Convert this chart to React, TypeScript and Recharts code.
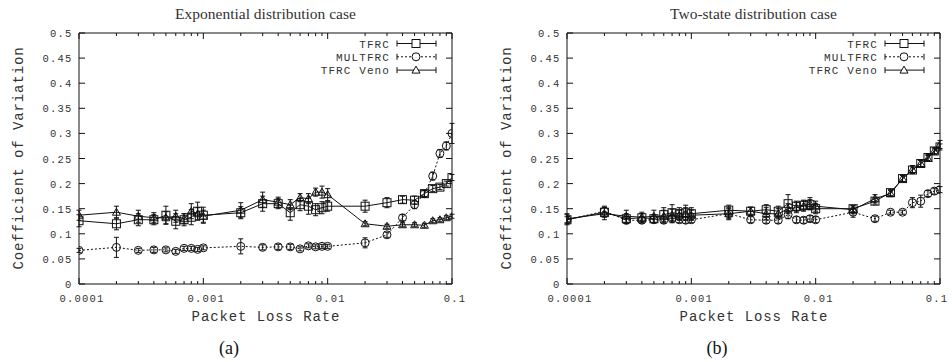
import React from 'react';
import { LineChart, Line, XAxis, YAxis, ErrorBar, Legend } from 'recharts';

const lossRates = [0.0001, 0.0002, 0.0003, 0.0004, 0.0005, 0.0006, 0.0007, 0.0008, 0.0009, 0.001, 0.002, 0.003, 0.004, 0.005, 0.006, 0.007, 0.008, 0.009, 0.01, 0.02, 0.03, 0.04, 0.05, 0.06, 0.07, 0.08, 0.09, 0.1];

const xTicks = [0.0001, 0.0002, 0.0003, 0.0004, 0.0005, 0.0006, 0.0007, 0.0008, 0.0009, 0.001, 0.002, 0.003, 0.004, 0.005, 0.006, 0.007, 0.008, 0.009, 0.01, 0.02, 0.03, 0.04, 0.05, 0.06, 0.07, 0.08, 0.09, 0.1];
const xMajorTicks = [0.0001, 0.001, 0.01, 0.1];
const xMajorLabels = ['0.0001', '0.001', '0.01', '0.1'];
const yTicks = [0, 0.05, 0.1, 0.15, 0.2, 0.25, 0.3, 0.35, 0.4, 0.45, 0.5];
const yTickLabels = ['0', '0.05', '0.1', '0.15', '0.2', '0.25', '0.3', '0.35', '0.4', '0.45', '0.5'];

const seriesNames = ['TFRC', 'MULTFRC', 'TFRC Veno'];

// (a) Exponential distribution case
const expTfrc = [0.126, 0.12, 0.128, 0.128, 0.137, 0.125, 0.128, 0.133, 0.145, 0.137, 0.142, 0.16, 0.16, 0.142, 0.158, 0.155, 0.148, 0.152, 0.155, 0.155, 0.162, 0.168, 0.167, 0.18, 0.19, 0.193, 0.2, 0.212];
const expTfrcErr = [0.012, 0.012, 0.012, 0.01, 0.018, 0.015, 0.012, 0.015, 0.018, 0.016, 0.012, 0.015, 0.01, 0.015, 0.012, 0.016, 0.012, 0.012, 0.01, 0.012, 0.01, 0.007, 0.008, 0.006, 0.006, 0.005, 0.005, 0.006];
const expMult = [0.067, 0.073, 0.067, 0.068, 0.068, 0.065, 0.071, 0.071, 0.069, 0.072, 0.075, 0.073, 0.074, 0.074, 0.07, 0.076, 0.074, 0.075, 0.075, 0.082, 0.098, 0.132, 0.158, 0.18, 0.215, 0.26, 0.275, 0.3];
const expMultErr = [0.004, 0.02, 0.004, 0.005, 0.004, 0.004, 0.004, 0.004, 0.004, 0.004, 0.015, 0.005, 0.005, 0.005, 0.004, 0.004, 0.004, 0.004, 0.004, 0.01, 0.005, 0.006, 0.008, 0.006, 0.008, 0.008, 0.008, 0.02];
const expVeno = [0.137, 0.143, 0.135, 0.132, 0.132, 0.135, 0.13, 0.145, 0.14, 0.135, 0.147, 0.168, 0.163, 0.158, 0.172, 0.17, 0.183, 0.183, 0.178, 0.12, 0.115, 0.118, 0.118, 0.117, 0.126, 0.128, 0.132, 0.135];
const expVenoErr = [0.01, 0.012, 0.012, 0.01, 0.012, 0.012, 0.01, 0.015, 0.012, 0.012, 0.015, 0.015, 0.01, 0.01, 0.008, 0.01, 0.008, 0.012, 0.012, 0.004, 0.004, 0.004, 0.004, 0.004, 0.004, 0.004, 0.004, 0.004];

// (b) Two-state distribution case
const twoTfrc = [0.128, 0.143, 0.13, 0.132, 0.13, 0.138, 0.142, 0.14, 0.142, 0.14, 0.147, 0.145, 0.148, 0.145, 0.16, 0.155, 0.157, 0.158, 0.15, 0.15, 0.165, 0.182, 0.21, 0.227, 0.24, 0.252, 0.265, 0.273];
const twoTfrcErr = [0.01, 0.01, 0.01, 0.008, 0.008, 0.014, 0.016, 0.012, 0.015, 0.012, 0.01, 0.008, 0.01, 0.01, 0.018, 0.01, 0.01, 0.01, 0.01, 0.006, 0.006, 0.006, 0.006, 0.006, 0.006, 0.006, 0.006, 0.006];
const twoMult = [0.128, 0.145, 0.127, 0.127, 0.128, 0.127, 0.13, 0.128, 0.127, 0.128, 0.14, 0.128, 0.127, 0.127, 0.138, 0.128, 0.127, 0.13, 0.128, 0.143, 0.13, 0.143, 0.143, 0.162, 0.165, 0.18, 0.185, 0.188];
const twoMultErr = [0.006, 0.01, 0.006, 0.006, 0.006, 0.006, 0.008, 0.006, 0.006, 0.006, 0.012, 0.006, 0.006, 0.006, 0.008, 0.006, 0.006, 0.006, 0.006, 0.01, 0.005, 0.004, 0.004, 0.01, 0.012, 0.006, 0.006, 0.006];
const twoVeno = [0.13, 0.14, 0.135, 0.133, 0.135, 0.135, 0.137, 0.137, 0.14, 0.137, 0.14, 0.145, 0.14, 0.14, 0.15, 0.152, 0.155, 0.16, 0.155, 0.148, 0.17, 0.18, 0.21, 0.228, 0.24, 0.25, 0.265, 0.278];
const twoVenoErr = [0.01, 0.012, 0.012, 0.01, 0.012, 0.012, 0.012, 0.01, 0.012, 0.01, 0.01, 0.008, 0.012, 0.01, 0.01, 0.01, 0.01, 0.012, 0.01, 0.008, 0.008, 0.006, 0.006, 0.008, 0.006, 0.006, 0.006, 0.008];

const buildRows = (t: number[], te: number[], m: number[], me: number[], v: number[], ve: number[]) =>
  lossRates.map((x, i) => ({ x, tfrc: t[i], tfrcErr: te[i], mult: m[i], multErr: me[i], veno: v[i], venoErr: ve[i] }));

const expRows = buildRows(expTfrc, expTfrcErr, expMult, expMultErr, expVeno, expVenoErr);
const twoRows = buildRows(twoTfrc, twoTfrcErr, twoMult, twoMultErr, twoVeno, twoVenoErr);

const MONO = '"Liberation Mono", "DejaVu Sans Mono", monospace';
const SERIF = '"Liberation Serif", "DejaVu Serif", serif';
const INK = '#111';
const TXT = '#333';

const BottomTick = (props: any) => {
  const { x, y, payload, maxX } = props;
  const i = xMajorTicks.indexOf(payload.value);
  const len = i >= 0 ? 6 : 3;
  const limit = typeof maxX === 'number' ? maxX : 1000;
  const tx = Math.min(x + 3, limit);
  return (
    <g>
      <line x1={x} x2={x} y1={y} y2={y - len} stroke={INK} strokeWidth={1} />
      {i >= 0 && (
        <text x={tx} y={y + 18} textAnchor="middle" fontFamily={MONO} fontSize={10.5} letterSpacing={1.2} fill={TXT}>
          {xMajorLabels[i]}
        </text>
      )}
    </g>
  );
};

const TopTick = (props: any) => {
  const { x, y, payload } = props;
  const i = xMajorTicks.indexOf(payload.value);
  const len = i >= 0 ? 6 : 3;
  return <line x1={x} x2={x} y1={y} y2={y + len} stroke={INK} strokeWidth={1} />;
};

const LeftTick = (props: any) => {
  const { x, y, payload } = props;
  const i = yTicks.indexOf(payload.value);
  return (
    <g>
      <line x1={x} x2={x + 6} y1={y} y2={y} stroke={INK} strokeWidth={1} />
      <text x={x - 6.5} y={y + 4} textAnchor="end" fontFamily={MONO} fontSize={10.5} letterSpacing={1.2} fill={TXT}>
        {i >= 0 ? yTickLabels[i] : ''}
      </text>
    </g>
  );
};

const RightTick = (props: any) => {
  const { x, y } = props;
  return <line x1={x} x2={x - 6} y1={y} y2={y} stroke={INK} strokeWidth={1} />;
};

const Square = (p: any) => {
  if (p.cx == null || p.cy == null) return <g key={p.key} />;
  return <rect key={p.key} x={p.cx - 4} y={p.cy - 4} width={8} height={8} fill="none" stroke={INK} strokeWidth={1} />;
};
const Circle = (p: any) => {
  if (p.cx == null || p.cy == null) return <g key={p.key} />;
  return <circle key={p.key} cx={p.cx} cy={p.cy} r={4} fill="none" stroke={INK} strokeWidth={1} />;
};
const Triangle = (p: any) => {
  if (p.cx == null || p.cy == null) return <g key={p.key} />;
  const { cx, cy } = p;
  return <path key={p.key} d={`M${cx},${cy - 4} L${cx + 4},${cy + 3} L${cx - 4},${cy + 3} Z`} fill="none" stroke={INK} strokeWidth={1} />;
};

const LegendBox = () => {
  const rows = [
    { name: seriesNames[0], dash: undefined as string | undefined, mark: 'sq' },
    { name: seriesNames[1], dash: '2 2', mark: 'ci' },
    { name: seriesNames[2], dash: undefined as string | undefined, mark: 'tr' },
  ];
  return (
    <svg width={160} height={44} style={{ display: 'block', overflow: 'visible' }}>
      {rows.map((r, i) => {
        const y = 7.5 + i * 13.3;
        const x1 = 97;
        const x2 = 136;
        const cx = 116;
        return (
          <g key={r.name}>
            <text x={90} y={y + 4} textAnchor="end" fontFamily={MONO} fontSize={11} letterSpacing={1.1} fill={TXT}>{r.name}</text>
            <line x1={x1} x2={x2} y1={y} y2={y} stroke={INK} strokeDasharray={r.dash} />
            <line x1={x1} x2={x1} y1={y - 3} y2={y + 3} stroke={INK} />
            <line x1={x2} x2={x2} y1={y - 3} y2={y + 3} stroke={INK} />
            {r.mark === 'sq' && <rect x={cx - 4} y={y - 4} width={8} height={8} fill="#fff" stroke={INK} />}
            {r.mark === 'ci' && <circle cx={cx} cy={y} r={4} fill="#fff" stroke={INK} />}
            {r.mark === 'tr' && <path d={`M${cx},${y - 4} L${cx + 4},${y + 3} L${cx - 4},${y + 3} Z`} fill="#fff" stroke={INK} />}
          </g>
        );
      })}
    </svg>
  );
};

const XTitle = () => (
  <text x={266} y={321} textAnchor="middle" fontFamily={MONO} fontSize={14} letterSpacing={0.9} fill={TXT}>Packet Loss Rate</text>
);
const YTitle = () => (
  <text x={23} y={158} transform="rotate(-90 23 158)" textAnchor="middle" fontFamily={MONO} fontSize={14} letterSpacing={0.9} fill={TXT}>Coefficient of Variation</text>
);

function Panel({ title, tag, rows, left, maxLabelX }: { title: string; tag: string; rows: any[]; left: number; maxLabelX: number }) {
  return (
    <div style={{ position: 'absolute', left, top: 0, width: 476, height: 362 }}>
      <div style={{ position: 'absolute', left: 0, width: 531, top: 5, textAlign: 'center', fontFamily: SERIF, fontSize: 15.5, color: TXT, lineHeight: '18px' }}>
        {title}
      </div>
      <div style={{ position: 'absolute', left: 179, width: 100, top: 337, textAlign: 'center', fontFamily: SERIF, fontSize: 18, color: '#111', lineHeight: '22px' }}>
        {tag}
      </div>
      <LineChart width={476} height={362} data={rows} margin={{ top: 23, right: 14, bottom: 68, left: 69 }}>
        <XAxis xAxisId="b" orientation="bottom" dataKey="x" type="number" scale="log" domain={[0.0001, 0.1]} allowDataOverflow ticks={xTicks} interval={0} tickSize={0} tickMargin={0} height={10} axisLine={{ stroke: INK }} tick={<BottomTick maxX={maxLabelX} />} label={<XTitle />} />
        <XAxis xAxisId="t" orientation="top" dataKey="x" type="number" scale="log" domain={[0.0001, 0.1]} allowDataOverflow ticks={xTicks} interval={0} tickSize={0} tickMargin={0} height={10} axisLine={{ stroke: INK }} tick={<TopTick />} />
        <YAxis yAxisId="l" orientation="left" type="number" domain={[0, 0.5]} allowDataOverflow ticks={yTicks} interval={0} tickSize={0} tickMargin={0} width={10} axisLine={{ stroke: INK }} tick={<LeftTick />} label={<YTitle />} />
        <YAxis yAxisId="r" orientation="right" type="number" domain={[0, 0.5]} allowDataOverflow ticks={yTicks} interval={0} tickSize={0} tickMargin={0} width={10} axisLine={{ stroke: INK }} tick={<RightTick />} />
        <Legend layout="vertical" align="center" verticalAlign="middle" wrapperStyle={{ left: 300, top: 36, width: 160, height: 44 }} content={() => <LegendBox />} />
        <Line xAxisId="b" yAxisId="l" dataKey="tfrc" name={seriesNames[0]} stroke={INK} strokeWidth={1} dot={Square} activeDot={false} isAnimationActive={false}>
          <ErrorBar dataKey="tfrcErr" direction="y" width={2.5} stroke={INK} strokeWidth={1} isAnimationActive={false} />
        </Line>
        <Line xAxisId="b" yAxisId="l" dataKey="mult" name={seriesNames[1]} stroke={INK} strokeWidth={1} strokeDasharray="2 2" dot={Circle} activeDot={false} isAnimationActive={false}>
          <ErrorBar dataKey="multErr" direction="y" width={2.5} stroke={INK} strokeWidth={1} isAnimationActive={false} />
        </Line>
        <Line xAxisId="b" yAxisId="l" dataKey="veno" name={seriesNames[2]} stroke={INK} strokeWidth={1} dot={Triangle} activeDot={false} isAnimationActive={false}>
          <ErrorBar dataKey="venoErr" direction="y" width={2.5} stroke={INK} strokeWidth={1} isAnimationActive={false} />
        </Line>
      </LineChart>
    </div>
  );
}

export default function App() {
  return (
    <div style={{ position: 'absolute', left: 0, top: 0, width: 952, height: 362, background: '#fff', overflow: 'hidden' }}>
      <Panel title="Exponential distribution case" tag="(a)" rows={expRows} left={0} maxLabelX={1000} />
      <Panel title="Two-state distribution case" tag="(b)" rows={twoRows} left={488} maxLabelX={449} />
    </div>
  );
}
